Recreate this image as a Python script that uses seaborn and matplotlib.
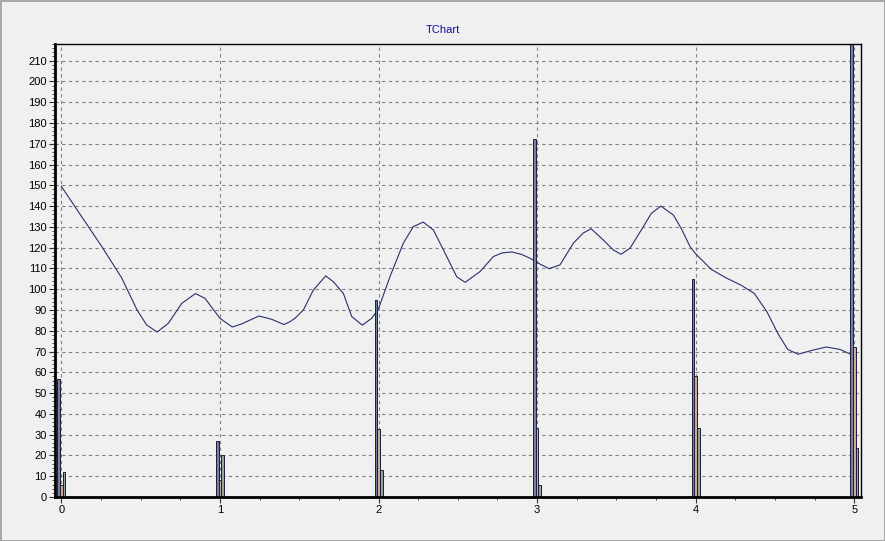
import matplotlib.pyplot as plt
import seaborn as sns
import pandas as pd
import numpy as np
from matplotlib.ticker import MultipleLocator

# bar series (three thin bars at each x position)
x_cats = [0, 1, 2, 3, 4, 5]
bar_a = [57, 27, 95, 172.5, 105, 222]
bar_b = [6, 8, 32.5, 33, 58, 72]
bar_c = [12, 20, 13, 6, 33, 23.5]

# smooth line
line_x = [0.00, 0.13, 0.257, 0.38, 0.478, 0.538, 0.604, 0.675, 0.759, 0.846,
          0.906, 1.00, 1.078, 1.137, 1.246, 1.327, 1.404, 1.442, 1.473, 1.526,
          1.589, 1.667, 1.715, 1.778, 1.831, 1.898, 1.957, 2.00, 2.072, 2.156,
          2.219, 2.281, 2.346, 2.43, 2.493, 2.546, 2.64, 2.724, 2.78, 2.841,
          2.90, 2.955, 3.02, 3.076, 3.144, 3.228, 3.29, 3.34, 3.417, 3.48,
          3.529, 3.585, 3.67, 3.72, 3.78, 3.859, 3.91, 3.964, 4.00, 4.097,
          4.19, 4.287, 4.37, 4.45, 4.518, 4.58, 4.645, 4.73, 4.823, 4.91, 5.00]
line_y = [149.5, 134.7, 120.3, 105.5, 89.9, 82.8, 79.4, 83.6, 93.2, 97.9,
          95.6, 86, 81.8, 83.3, 87.1, 85.5, 83, 84.4, 86, 90,
          99.6, 106.4, 103.6, 98, 86.8, 82.7, 86, 90.7, 106, 122.1,
          130.1, 132.3, 128.5, 115.7, 106, 103.3, 108.5, 115.7, 117.5, 117.9,
          116.8, 114.9, 112, 109.9, 111.7, 122.1, 127, 129.1, 123.7, 118.9,
          116.8, 119.7, 130.1, 136.5, 140, 135.7, 129, 120.5, 117, 109.6,
          105.5, 101.9, 97.9, 89, 78.7, 71, 68.7, 70.5, 72.2, 71, 67.9]

bars = pd.DataFrame({
    "x": x_cats * 3,
    "value": bar_a + bar_b + bar_c,
    "series": ["A"] * 6 + ["B"] * 6 + ["C"] * 6,
})

plt.rcParams["font.family"] = ["Liberation Sans", "DejaVu Sans"]
bg = "#f0f0f0"

fig = plt.figure(figsize=(8.85, 5.41), dpi=100, facecolor=bg)
fig.patch.set_edgecolor("#a8a8a8")
fig.patch.set_linewidth(1)
ax = fig.add_axes([55 / 885, 1 - 497 / 541, 806 / 885, 453 / 541])
ax.set_facecolor(bg)

sns.lineplot(x=line_x, y=line_y, color="#28306c", linewidth=0.8, sort=False,
             ax=ax, zorder=0.8)
sns.barplot(data=bars, x="x", y="value", hue="series", native_scale=True,
            width=0.05, palette=["#6d7da6", "#d8a888", "#8fa8a2"],
            edgecolor="#1c1c38", linewidth=0.7, errorbar=None, legend=False,
            ax=ax, zorder=1)

ax.set_xlim(-0.040, 5.042)
ax.set_ylim(0, 218)
ax.xaxis.set_major_locator(MultipleLocator(1))
ax.xaxis.set_minor_locator(MultipleLocator(0.25))
ax.yaxis.set_major_locator(MultipleLocator(10))
ax.yaxis.set_minor_locator(MultipleLocator(2))
ax.xaxis.set_major_formatter(plt.FuncFormatter(lambda v, p: f"{v:.0f}"))

ax.set_axisbelow(True)
ax.grid(True, which="major", color="#808080", linestyle=(0, (3, 3)), linewidth=0.8)
ax.set_xlabel("")
ax.set_ylabel("")

ax.tick_params(axis="both", which="major", direction="out", length=4,
               width=0.8, labelsize=8, color="#303030", pad=2)
ax.tick_params(axis="both", which="minor", direction="out", length=2,
               width=0.6, color="#303030")

for side in ["left", "bottom"]:
    ax.spines[side].set_linewidth(2)
for side in ["top", "right"]:
    ax.spines[side].set_linewidth(1)

fig.text(0.5, 1 - 30 / 541, "TChart", ha="center", va="center",
         color="#1010a0", fontsize=8)

fig.savefig("out.png", dpi=100, facecolor=bg, edgecolor=fig.patch.get_edgecolor())
